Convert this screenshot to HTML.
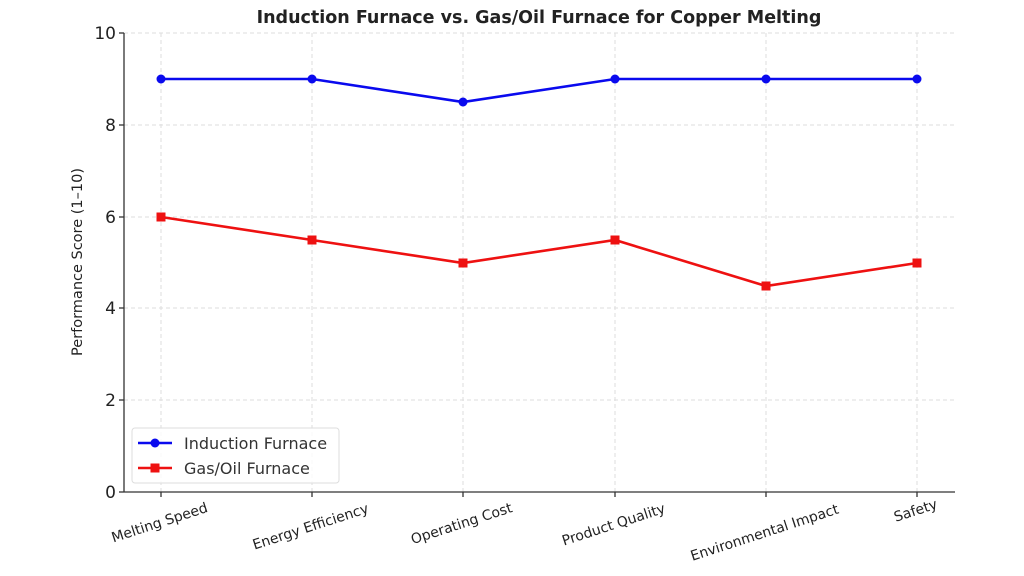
<!DOCTYPE html>
<html><head><meta charset="utf-8"><style>body{margin:0;background:#fff}svg{display:block}</style></head><body>
<svg width="1024" height="576" xmlns="http://www.w3.org/2000/svg" font-family="DejaVu Sans, Liberation Sans, sans-serif">
<rect width="1024" height="576" fill="#fff"/>
<text x="539" y="23" text-anchor="middle" font-size="17.5" font-weight="bold" fill="#222">Induction Furnace vs. Gas/Oil Furnace for Copper Melting</text>
<g stroke="#ddd" stroke-dasharray="4,3" stroke-width="1">
<line x1="124" y1="33" x2="955" y2="33"/><line x1="124" y1="125" x2="955" y2="125"/><line x1="124" y1="217" x2="955" y2="217"/><line x1="124" y1="308" x2="955" y2="308"/><line x1="124" y1="400" x2="955" y2="400"/>
<line x1="161" y1="33" x2="161" y2="492"/><line x1="312" y1="33" x2="312" y2="492"/><line x1="463" y1="33" x2="463" y2="492"/><line x1="615" y1="33" x2="615" y2="492"/><line x1="766" y1="33" x2="766" y2="492"/><line x1="917" y1="33" x2="917" y2="492"/>
</g>
<g stroke="#333" stroke-width="1.3">
<line x1="124" y1="33" x2="124" y2="492"/><line x1="124" y1="492" x2="955" y2="492"/>
<line x1="119" y1="33" x2="124" y2="33"/><line x1="119" y1="125" x2="124" y2="125"/><line x1="119" y1="217" x2="124" y2="217"/><line x1="119" y1="308" x2="124" y2="308"/><line x1="119" y1="400" x2="124" y2="400"/><line x1="119" y1="492" x2="124" y2="492"/>
<line x1="161" y1="492" x2="161" y2="497"/><line x1="312" y1="492" x2="312" y2="497"/><line x1="463" y1="492" x2="463" y2="497"/><line x1="615" y1="492" x2="615" y2="497"/><line x1="766" y1="492" x2="766" y2="497"/><line x1="917" y1="492" x2="917" y2="497"/>
</g>
<g font-size="17" fill="#222" text-anchor="end">
<text x="116" y="39">10</text><text x="116" y="131">8</text><text x="116" y="223">6</text><text x="116" y="314">4</text><text x="116" y="406">2</text><text x="116" y="498">0</text>
</g>
<text transform="translate(82,262) rotate(-90)" text-anchor="middle" font-size="14.5" fill="#222">Performance Score (1–10)</text>
<g font-size="14" fill="#222" text-anchor="middle">
<text transform="translate(161,527) rotate(-18)">Melting Speed</text>
<text transform="translate(312,531) rotate(-18)">Energy Efficiency</text>
<text transform="translate(463,528) rotate(-18)">Operating Cost</text>
<text transform="translate(615,529) rotate(-18)">Product Quality</text>
<text transform="translate(766,537) rotate(-18)">Environmental Impact</text>
<text transform="translate(917,515) rotate(-18)">Safety</text>
</g>
<polyline points="161,79 312,79 463,102 615,79 766,79 917,79" fill="none" stroke="#0a0aee" stroke-width="2.6"/>
<g fill="#0a0aee"><circle cx="161" cy="79" r="4.5"/><circle cx="312" cy="79" r="4.5"/><circle cx="463" cy="102" r="4.5"/><circle cx="615" cy="79" r="4.5"/><circle cx="766" cy="79" r="4.5"/><circle cx="917" cy="79" r="4.5"/></g>
<polyline points="161,217 312,240 463,263 615,240 766,286 917,263" fill="none" stroke="#ee1111" stroke-width="2.6"/>
<g fill="#ee1111"><rect x="156.5" y="212.5" width="9" height="9"/><rect x="307.5" y="235.5" width="9" height="9"/><rect x="458.5" y="258.5" width="9" height="9"/><rect x="610.5" y="235.5" width="9" height="9"/><rect x="761.5" y="281.5" width="9" height="9"/><rect x="912.5" y="258.5" width="9" height="9"/></g>
<rect x="132" y="428" width="207" height="55" rx="3" fill="#fff" fill-opacity="0.85" stroke="#ddd"/>
<line x1="138" y1="443" x2="172" y2="443" stroke="#0a0aee" stroke-width="2.6"/><circle cx="155" cy="443" r="4.5" fill="#0a0aee"/>
<line x1="138" y1="468" x2="172" y2="468" stroke="#ee1111" stroke-width="2.6"/><rect x="150.5" y="463.5" width="9" height="9" fill="#ee1111"/>
<text x="184" y="449" font-size="16" fill="#333">Induction Furnace</text>
<text x="184" y="474" font-size="16" fill="#333">Gas/Oil Furnace</text>
</svg>
</body></html>
